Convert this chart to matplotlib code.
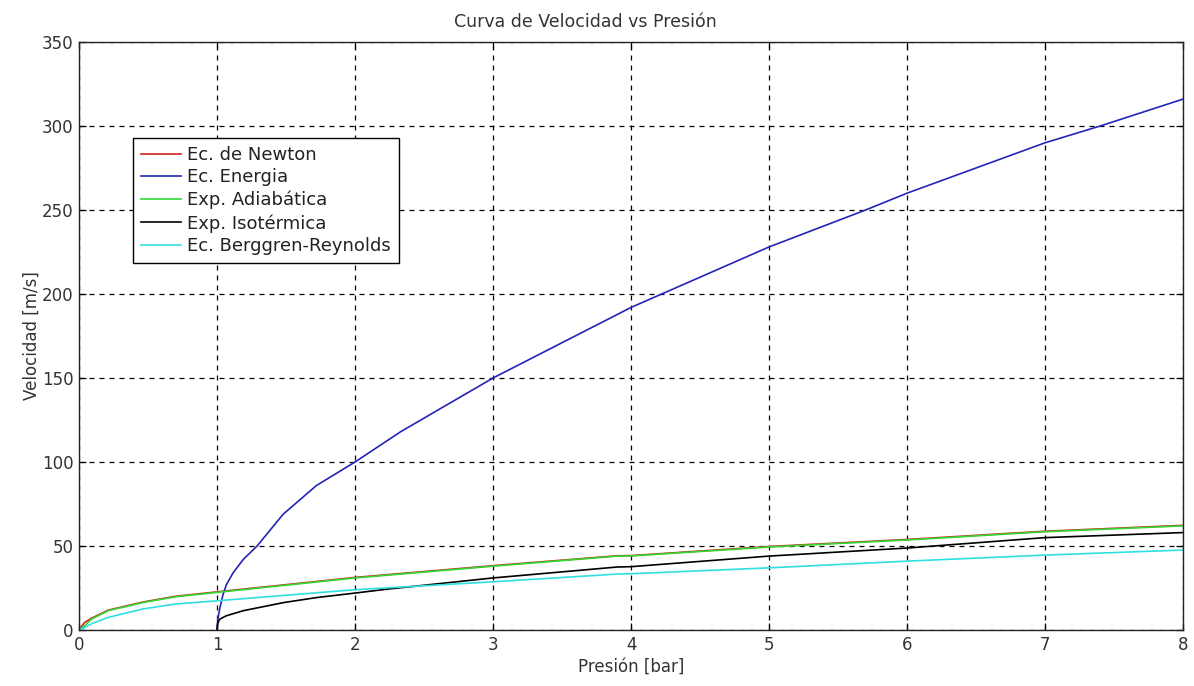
"""Velocidad de descarga frente a presión para varias ecuaciones."""

import matplotlib.pyplot as plt

plt.switch_backend("Agg")
plt.rcParams["font.family"] = ["DejaVu Sans"]

# Presión [bar] y velocidad [m/s] para cada modelo
p_newton = [0.0, 0.04, 0.09, 0.21, 0.46, 0.7, 1.0, 2.0, 3.0, 3.9, 4.0, 5.0, 6.0, 7.0, 8.0]
v_newton = [0.0, 4.5, 7.0, 11.8, 16.6, 20.1, 22.7, 31.3, 38.3, 44.2, 44.3, 49.7, 53.9, 58.8, 62.3]

p_energia = [1.0, 1.005, 1.02, 1.043, 1.068, 1.116, 1.19, 1.29, 1.48, 1.72, 2.0, 2.33,
             3.0, 4.0, 5.0, 5.7, 6.0, 7.0, 7.4, 8.0]
v_energia = [0.0, 6.0, 13.0, 21.0, 27.0, 34.0, 42.0, 50.0, 69.0, 86.0, 100.0, 118.0,
             150.0, 192.0, 228.0, 250.0, 260.0, 290.0, 300.0, 316.0]

p_adiab = [0.0, 0.04, 0.09, 0.21, 0.46, 0.7, 1.0, 2.0, 3.0, 3.9, 4.0, 5.0, 6.0, 7.0, 8.0]
v_adiab = [0.0, 2.5, 6.5, 11.5, 16.3, 19.8, 22.4, 31.0, 38.0, 44.0, 44.1, 49.4, 53.6, 58.5, 62.0]

p_isot = [1.0, 1.005, 1.02, 1.068, 1.19, 1.48, 1.72, 2.0, 2.23, 3.0, 3.9, 4.0, 5.0, 6.0, 7.0, 8.0]
v_isot = [0.0, 4.0, 6.5, 8.5, 11.5, 16.3, 19.3, 22.0, 24.3, 31.0, 37.5, 37.7, 44.0, 48.8, 55.0, 58.0]

p_berg = [0.0, 0.04, 0.09, 0.21, 0.46, 0.7, 1.0, 2.0, 3.0, 3.9, 4.0, 5.0, 6.0, 7.0, 8.0]
v_berg = [0.0, 1.5, 3.7, 7.5, 12.5, 15.5, 17.4, 24.0, 28.7, 33.3, 33.5, 37.0, 41.0, 44.6, 47.6]

x_ticks = [0, 1, 2, 3, 4, 5, 6, 7, 8]
y_ticks = [0, 50, 100, 150, 200, 250, 300, 350]

text_color = "#333333"

fig = plt.figure(figsize=(11.94, 6.86), dpi=100)
ax = fig.add_axes([0.0662, 0.0816, 0.9246, 0.8572])

ax.plot(p_newton, v_newton, color="#d42020", lw=1.2, label="Ec. de Newton")
ax.plot(p_energia, v_energia, color="#2424b8", lw=1.2, label="Ec. Energia")
ax.plot(p_adiab, v_adiab, color="#30d830", lw=1.2, label="Exp. Adiabática")
ax.plot(p_isot, v_isot, color="black", lw=1.2, label="Exp. Isotérmica")
ax.plot(p_berg, v_berg, color="#30e0e0", lw=1.2, label="Ec. Berggren-Reynolds")

ax.set_xlim(0, 8)
ax.set_ylim(0, 350)
ax.set_xticks(x_ticks)
ax.set_yticks(y_ticks)
ax.grid(True, color="black", ls=(0, (4, 4)), lw=0.9)
ax.tick_params(direction="in", length=5, top=True, right=True, pad=4,
               labelsize=12, labelcolor=text_color, width=0.9)
for s in ax.spines.values():
    s.set_linewidth(1.0)
    s.set_color("#222222")

ax.set_title("Curva de Velocidad vs Presión", fontsize=12.5, color=text_color,
             pad=11, x=0.459)
ax.set_xlabel("Presión [bar]", fontsize=12, color=text_color, labelpad=3)
ax.set_ylabel("Velocidad [m/s]", fontsize=12, color=text_color, labelpad=1)

leg = ax.legend(loc="upper left", bbox_to_anchor=(0.049, 0.837), fontsize=13,
                frameon=True, fancybox=False, framealpha=1, edgecolor="black",
                handlelength=2.2, handletextpad=0.35, borderpad=0.45,
                labelspacing=0.25, borderaxespad=0)
leg.get_frame().set_linewidth(1.0)
for t in leg.get_texts():
    t.set_color("#222222")

fig.savefig("out.png", dpi=100)
